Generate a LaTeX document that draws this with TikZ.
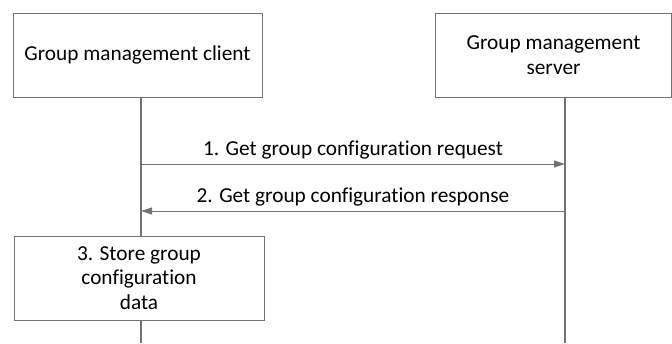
\documentclass[tikz,border=0pt]{standalone}
\usepackage{fontspec}
\setmainfont[Ligatures=NoCommon]{Carlito}
\usetikzlibrary{arrows.meta}
\begin{document}
\begin{tikzpicture}[x=1pt,y=-1pt,
  every node/.style={font=\fontsize{21.3}{24.5}\selectfont, text=black},
  box/.style={draw=gray!90!black, line width=0.9pt, fill=white, inner sep=0pt, align=center},
  life/.style={draw=gray!90!black, line width=1.2pt},
  msg/.style={draw=gray!90!black, line width=0.9pt, -{Triangle[length=11pt,width=7pt]}}]
\useasboundingbox (0,0) rectangle (672,343);
\node[box, minimum width=249pt, minimum height=84pt] (client) at (137.5,55) {Group management client};
\node[box, minimum width=236pt, minimum height=84pt] (server) at (553.5,55) {Group management\\server};
\coordinate (cbot) at (141,343);
\coordinate (sbot) at (565,343);
\coordinate (ctop) at (141,97);
\coordinate (stop) at (565,97);
\draw[life] (ctop) -- (cbot);
\draw[life] (stop) -- (sbot);
\node[box, minimum width=250pt, minimum height=84pt] (store) at (139,278) {3. Store group\\configuration\\data};
\coordinate (a1s) at (141,164);
\coordinate (a1e) at (565,164);
\coordinate (a2s) at (565,211);
\coordinate (a2e) at (141,211);
\draw[msg] (a1s) -- node[above=1.5pt] {1. Get group configuration request} (a1e);
\draw[msg] (a2s) -- node[above=1.5pt] {2. Get group configuration response} (a2e);
\end{tikzpicture}
\end{document}
